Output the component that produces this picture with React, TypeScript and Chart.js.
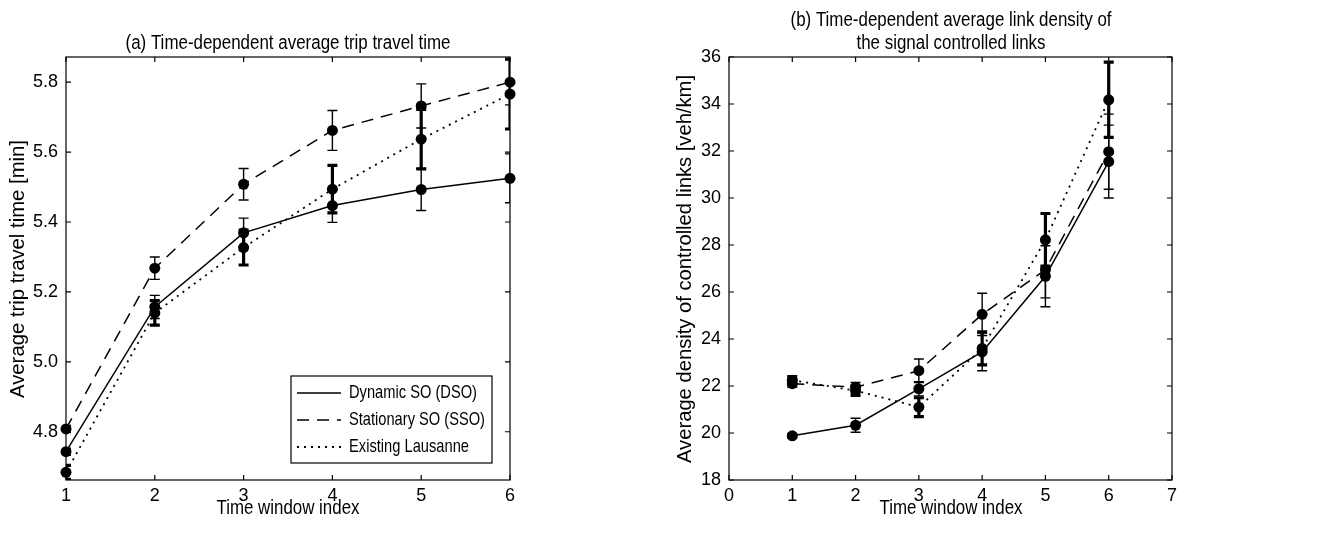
import React, { useEffect, useRef } from "react";
import { Chart, registerables } from "chart.js";

Chart.register(...registerables);

// ---- data ----
const windows = [1, 2, 3, 4, 5, 6];

// (a) average trip travel time [min]
const travelDSO = [4.743, 5.157, 5.369, 5.447, 5.493, 5.525];
const travelDSOErr = [0.01, 0.033, 0.042, 0.048, 0.06, 0.07];
const travelSSO = [4.808, 5.268, 5.508, 5.662, 5.732, 5.8];
const travelSSOErr = [0.01, 0.032, 0.045, 0.057, 0.063, 0.065];
const travelExisting = [4.684, 5.14, 5.327, 5.494, 5.637, 5.766];
const travelExistingErr = [0.02, 0.035, 0.05, 0.068, 0.085, 0.1];

// (b) average density of the signal controlled links [veh/km]
const densityDSO = [19.88, 20.33, 21.88, 23.45, 26.67, 31.55];
const densityDSOErr = [0.1, 0.3, 0.3, 0.8, 1.3, 1.55];
const densitySSO = [22.1, 21.95, 22.65, 25.05, 26.95, 31.97];
const densitySSOErr = [0.15, 0.2, 0.5, 0.9, 1.2, 1.6];
const densityExisting = [22.25, 21.8, 21.1, 23.6, 28.22, 34.18];
const densityExistingErr = [0.15, 0.2, 0.4, 0.7, 1.12, 1.6];

const travelTicks = [4.8, 5.0, 5.2, 5.4, 5.6, 5.8];
const densityTicks = [18, 20, 22, 24, 26, 28, 30, 32, 34, 36];
const windowTicksA = [1, 2, 3, 4, 5, 6];
const windowTicksB = [0, 1, 2, 3, 4, 5, 6, 7];

const seriesNames = ["Dynamic SO (DSO)", "Stationary SO (SSO)", "Existing Lausanne"];

// ---- styling ----
const FONT = "'Liberation Sans', Arial, Helvetica, sans-serif";
const DASHES: number[][] = [[], [12, 8], [2, 5]];
const LINE_WIDTH = [1.5, 1.5, 1.8];
const ERR_WIDTH = [1.4, 1.4, 3.2];

type TextSpec = { text: string; x: number; y: number; size: number; width: number; angle?: number; align?: CanvasTextAlign };

// draws a label squeezed horizontally to a given width (narrow-face look)
function drawFitted(ctx: CanvasRenderingContext2D, t: TextSpec) {
  ctx.save();
  ctx.translate(t.x, t.y);
  if (t.angle) ctx.rotate(t.angle);
  ctx.font = `${t.size}px ${FONT}`;
  const w = ctx.measureText(t.text).width;
  ctx.scale(t.width / w, 1);
  ctx.fillStyle = "#000";
  ctx.textAlign = t.align || "center";
  ctx.textBaseline = "middle";
  ctx.fillText(t.text, 0, 0);
  ctx.restore();
}

type PanelSpec = {
  values: number[][];
  errors: number[][];
  xMin: number;
  xMax: number;
  yMin: number;
  yMax: number;
  xTicks: number[];
  yTicks: number[];
  yDecimals: number;
  yAxisWidth: number;
  padRight: number;
  texts: TextSpec[];
  legend: boolean;
};

function makePlugin(spec: PanelSpec) {
  return {
    id: "panelDecor",
    beforeDatasetsDraw(chart: any) {
      const { ctx, chartArea: a, scales } = chart;
      const xs = scales.x;
      const ys = scales.y;
      ctx.save();
      ctx.beginPath();
      ctx.rect(a.left, a.top, a.right - a.left, a.bottom - a.top);
      ctx.clip();
      ctx.strokeStyle = "#000";
      spec.values.forEach((vals, si) => {
        ctx.lineWidth = ERR_WIDTH[si];
        vals.forEach((v, i) => {
          const e = spec.errors[si][i];
          const px = xs.getPixelForValue(windows[i]);
          const top = ys.getPixelForValue(v + e);
          const bot = ys.getPixelForValue(v - e);
          ctx.beginPath();
          ctx.moveTo(px, top);
          ctx.lineTo(px, bot);
          ctx.moveTo(px - 5, top);
          ctx.lineTo(px + 5, top);
          ctx.moveTo(px - 5, bot);
          ctx.lineTo(px + 5, bot);
          ctx.stroke();
        });
      });
      ctx.restore();
    },
    afterDraw(chart: any) {
      const { ctx, chartArea: a, scales } = chart;
      const xs = scales.x;
      const ys = scales.y;
      ctx.save();
      ctx.strokeStyle = "#000";
      ctx.lineWidth = 1.2;
      ctx.setLineDash([]);
      ctx.strokeRect(a.left, a.top, a.right - a.left, a.bottom - a.top);
      const tl = 5;
      ctx.beginPath();
      spec.xTicks.forEach((v) => {
        const px = xs.getPixelForValue(v);
        ctx.moveTo(px, a.bottom);
        ctx.lineTo(px, a.bottom - tl);
        ctx.moveTo(px, a.top);
        ctx.lineTo(px, a.top + tl);
      });
      spec.yTicks.forEach((v) => {
        const py = ys.getPixelForValue(v);
        ctx.moveTo(a.left, py);
        ctx.lineTo(a.left + tl, py);
        ctx.moveTo(a.right, py);
        ctx.lineTo(a.right - tl, py);
      });
      ctx.stroke();
      spec.texts.forEach((t) => drawFitted(ctx, t));

      if (spec.legend) {
        const bx = 291;
        const by = 376;
        const bw = 201;
        const bh = 87;
        ctx.fillStyle = "#fff";
        ctx.fillRect(bx, by, bw, bh);
        ctx.lineWidth = 1.2;
        ctx.strokeRect(bx, by, bw, bh);
        const widths = [128, 136, 120];
        seriesNames.forEach((name, i) => {
          const ly = by + 17 + i * 27;
          ctx.beginPath();
          ctx.lineWidth = LINE_WIDTH[i];
          ctx.setLineDash(DASHES[i]);
          ctx.moveTo(bx + 6, ly);
          ctx.lineTo(bx + 50, ly);
          ctx.stroke();
          ctx.setLineDash([]);
          drawFitted(ctx, { text: name, x: bx + 58, y: ly, size: 19, width: widths[i], align: "left" });
        });
      }
      ctx.restore();
    },
  };
}

function Panel({ spec, left, width }: { spec: PanelSpec; left: number; width: number }) {
  const ref = useRef<HTMLCanvasElement | null>(null);
  useEffect(() => {
    const canvas = ref.current;
    if (!canvas) return;
    const datasets = spec.values.map((vals, si) => ({
      label: seriesNames[si],
      data: vals.map((v, i) => ({ x: windows[i], y: v })),
      borderColor: "#000",
      backgroundColor: "#000",
      borderWidth: LINE_WIDTH[si],
      borderDash: DASHES[si],
      pointRadius: 5.5,
      pointBackgroundColor: "#000",
      pointBorderColor: "#000",
      pointBorderWidth: 0,
      tension: 0,
      clip: false as const,
    }));
    const tickFont = { family: FONT, size: 18 };
    const chart = new Chart(canvas, {
      type: "line",
      data: { datasets },
      plugins: [makePlugin(spec)],
      options: {
        animation: false,
        responsive: false,
        events: [],
        layout: { padding: { left: 0, right: spec.padRight, top: 57, bottom: 0 } },
        plugins: { legend: { display: false }, tooltip: { enabled: false } },
        scales: {
          x: {
            type: "linear",
            min: spec.xMin,
            max: spec.xMax,
            grid: { display: false, drawTicks: false },
            border: { display: false },
            ticks: { color: "#000", font: tickFont, padding: 5, maxRotation: 0, autoSkip: false },
            afterBuildTicks: (s: any) => {
              s.ticks = spec.xTicks.map((v) => ({ value: v }));
            },
            afterFit: (s: any) => {
              s.height = 68;
            },
          },
          y: {
            type: "linear",
            min: spec.yMin,
            max: spec.yMax,
            grid: { display: false, drawTicks: false },
            border: { display: false },
            ticks: {
              color: "#000",
              font: tickFont,
              padding: 8,
              autoSkip: false,
              callback: (v: any) => Number(v).toFixed(spec.yDecimals),
            },
            afterBuildTicks: (s: any) => {
              s.ticks = spec.yTicks.map((v) => ({ value: v }));
            },
            afterFit: (s: any) => {
              s.width = spec.yAxisWidth;
            },
          },
        },
      } as any,
    });
    return () => chart.destroy();
  }, [spec]);
  return (
    <canvas
      ref={ref}
      width={width}
      height={548}
      style={{ position: "absolute", left, top: 0, width, height: 548 }}
    />
  );
}

const panelA: PanelSpec = {
  values: [travelDSO, travelSSO, travelExisting],
  errors: [travelDSOErr, travelSSOErr, travelExistingErr],
  xMin: 1,
  xMax: 6,
  yMin: 4.662,
  yMax: 5.872,
  xTicks: windowTicksA,
  yTicks: travelTicks,
  yDecimals: 1,
  yAxisWidth: 66,
  padRight: 659 - 510,
  legend: true,
  texts: [
    { text: "(a) Time-dependent average trip travel time", x: 288, y: 43, size: 20, width: 325 },
    { text: "Time window index", x: 288, y: 508, size: 21, width: 143 },
    { text: "Average trip travel time [min]", x: 18, y: 269, size: 21, width: 258, angle: -Math.PI / 2 },
  ],
};

const panelB: PanelSpec = {
  values: [densityDSO, densitySSO, densityExisting],
  errors: [densityDSOErr, densitySSOErr, densityExistingErr],
  xMin: 0,
  xMax: 7,
  yMin: 18,
  yMax: 36,
  xTicks: windowTicksB,
  yTicks: densityTicks,
  yDecimals: 0,
  yAxisWidth: 729 - 659,
  padRight: 659 - (1172 - 659),
  legend: false,
  texts: [
    { text: "(b) Time-dependent average link density of", x: 951 - 659, y: 20, size: 20, width: 321 },
    { text: "the signal controlled links", x: 951 - 659, y: 43, size: 20, width: 189 },
    { text: "Time window index", x: 951 - 659, y: 508, size: 21, width: 143 },
    { text: "Average density of controlled links [veh/km]", x: 685 - 659, y: 269, size: 21, width: 388, angle: -Math.PI / 2 },
  ],
};

export default function App() {
  return (
    <div style={{ position: "absolute", left: 0, top: 0, width: 1318, height: 548, background: "#fff" }}>
      <Panel spec={panelA} left={0} width={659} />
      <Panel spec={panelB} left={659} width={659} />
    </div>
  );
}
